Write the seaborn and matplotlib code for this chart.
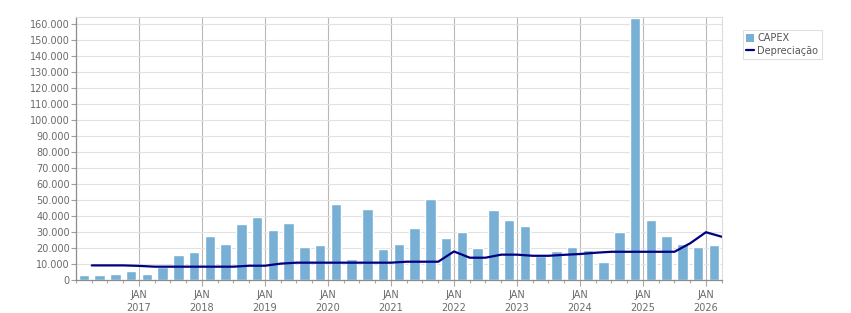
import matplotlib
matplotlib.use("Agg")
import matplotlib.pyplot as plt
import pandas as pd
import seaborn as sns
from matplotlib.ticker import FuncFormatter, MultipleLocator
from matplotlib.patches import Patch
from matplotlib.lines import Line2D

# ---------------- data ----------------
quarters = [f"{y}Q{q}" for y in range(2016, 2027) for q in range(1, 5)][:41]

capex = [
    3300, 3300, 3900, 6000,        # 2016
    3900, 8100, 15800, 17900,      # 2017
    27700, 22700, 35100, 39500,    # 2018
    31400, 35800, 20800, 22000,    # 2019
    47600, 13300, 44500, 19500,    # 2020
    22700, 32600, 50700, 26400,    # 2021
    30100, 20100, 43900, 37600,    # 2022
    33900, 15200, 18300, 20800,    # 2023
    18900, 11400, 30200, 163900,   # 2024
    37600, 27700, 22700, 20800,    # 2025
    22000,                         # 2026
]

depreciacao = [
    9300, 9300, 9300, 9000,        # 2016
    8500, 8500, 8500, 8500,        # 2017
    8500, 8500, 9100, 9100,        # 2018
    10400, 11000, 11000, 11000,    # 2019
    11000, 11000, 11000, 11000,    # 2020
    11600, 11600, 11600, 18000,    # 2021
    14100, 14100, 16000, 16000,    # 2022
    15300, 15300, 15900, 16400,    # 2023
    17200, 17800, 17800, 17800,    # 2024
    17800, 17800, 23100, 30000,    # 2025
    27200,                         # 2026
]

tick_years = ["2017", "2018", "2019", "2020", "2021", "2022", "2023", "2024", "2025", "2026"]
series_names = ["CAPEX", "Depreciação"]

# ---------------- style ----------------
BAR = "#77b0d4"
LINE = "#000080"
TXT = "#6a6a6a"

sns.set_theme(style="white")
plt.rcParams["font.family"] = ["DejaVu Sans"]

df = pd.DataFrame({"quarter": quarters, "capex": capex, "dep": depreciacao})
df["year"] = df["quarter"].str[:4].astype(int)
df["q"] = df["quarter"].str[-1].astype(int)
df["start"] = df["year"] + (df["q"] - 1) * 0.25
df["mid"] = df["start"] + 0.125
df["end"] = df["start"] + 0.25

fig = plt.figure(figsize=(8.51, 3.13), dpi=100)
ax = fig.add_axes([76 / 851, 1 - 280.3 / 313, (721.7 - 76) / 851, (280.3 - 16.7) / 313])
ax.set_facecolor("white")

sns.barplot(data=df, x="mid", y="capex", native_scale=True, width=0.66,
            color=BAR, saturation=1, errorbar=None, orient="x", ax=ax, zorder=2)
sns.lineplot(data=df, x="end", y="dep", color=LINE, linewidth=1.6, ax=ax, zorder=3)

ax.set_xlim(2016, 2026.25)
ax.set_ylim(0, 164500)

# grid
ax.set_axisbelow(True)
ax.yaxis.grid(True, color="#e2e2e2", lw=0.8)
ax.xaxis.grid(True, which="major", color="#b8b8b8", lw=0.8)

# ticks
ax.set_xticks([int(y) for y in tick_years])
ax.set_xticklabels([f"JAN\n{y}" for y in tick_years], linespacing=1.35)
ax.xaxis.set_minor_locator(MultipleLocator(0.25))
ax.set_yticks(range(0, 160001, 10000))
ax.yaxis.set_major_formatter(FuncFormatter(lambda v, _: f"{int(v):,}".replace(",", ".")))

ax.tick_params(axis="x", which="major", length=4, width=0.8, color="#a8a8a8",
               labelsize=7, labelcolor=TXT, pad=3, bottom=True)
ax.tick_params(axis="x", which="minor", length=2.5, width=0.8, color="#a8a8a8", bottom=True)
ax.tick_params(axis="y", length=3.5, width=0.8, color="#a0a0a0",
               labelsize=7, labelcolor=TXT, pad=1, left=True)

ax.set_xlabel("")
ax.set_ylabel("")

for s in ["left", "bottom"]:
    ax.spines[s].set_color("#8c8c8c")
    ax.spines[s].set_linewidth(0.9)
for s in ["top", "right"]:
    ax.spines[s].set_color("#dcdcdc")
    ax.spines[s].set_linewidth(0.8)

handles = [Patch(facecolor=BAR, edgecolor="none"), Line2D([0], [0], color=LINE, lw=1.6)]
leg = ax.legend(handles=handles, labels=series_names, loc="upper left",
                bbox_to_anchor=(743 / 851, 1 - 30 / 313), bbox_transform=fig.transFigure,
                frameon=True, fancybox=False, edgecolor="#d8d8d8", fontsize=7,
                handlelength=0.8, handleheight=0.8, handletextpad=0.3,
                borderpad=0.35, labelspacing=0.25, borderaxespad=0, labelcolor="#555555")
leg.get_frame().set_linewidth(0.8)

fig.savefig("out.png", dpi=100)
